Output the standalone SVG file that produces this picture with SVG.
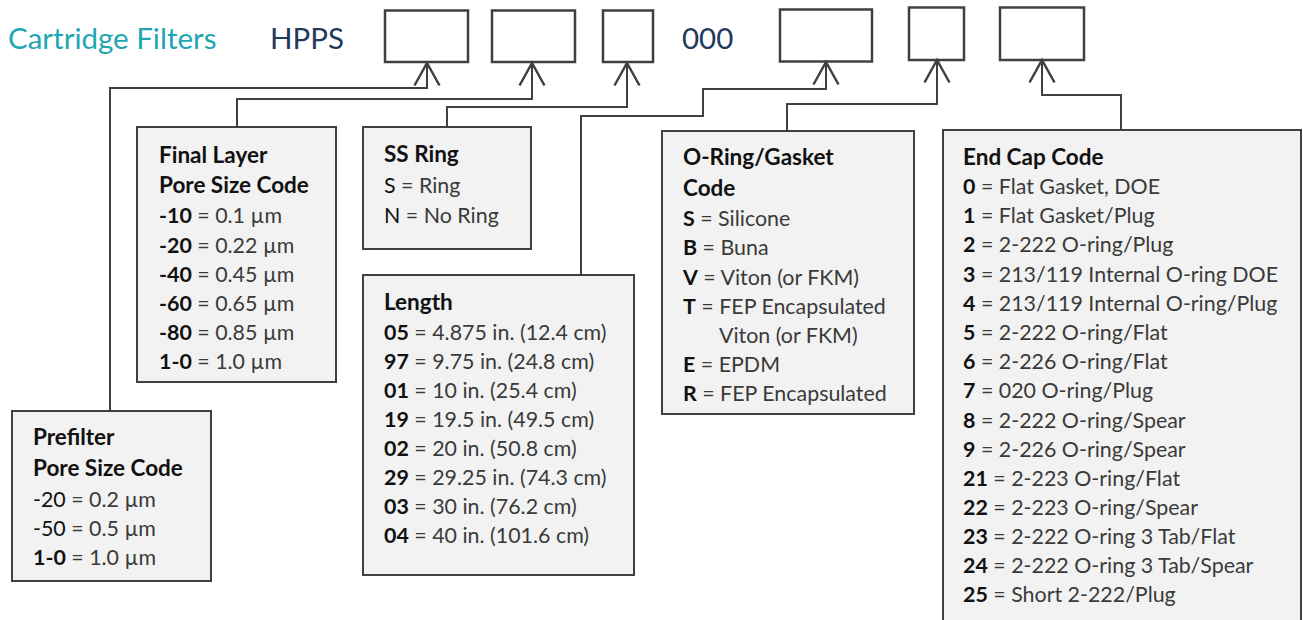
<svg xmlns="http://www.w3.org/2000/svg" width="1303" height="620" viewBox="0 0 1303 620">
<style>
text{font-family:Lato,"Open Sans","Liberation Sans",sans-serif;}
.hd{font-size:29.5px;}
.t{font-size:22.5px;font-weight:bold;fill:#111;}
.l{font-size:21.4px;fill:#3a3a3a;font-weight:400;}
.b{font-weight:bold;fill:#111;}
.k{fill:#111;font-weight:400;}
.slot{fill:#fff;stroke:#404040;stroke-width:2.5;}
.box{fill:#f2f2f2;stroke:#404040;stroke-width:2;}
.c{fill:none;stroke:#404040;stroke-width:2;marker-end:url(#ah);}
</style>
<defs>
<marker id="ah" markerUnits="userSpaceOnUse" markerWidth="30" markerHeight="30" viewBox="-20 -12 24 24" refX="0" refY="0" orient="auto">
<path d="M-18,-10 L0,0 L-18,10" fill="none" stroke="#404040" stroke-width="2"/>
</marker>
</defs>
<g id="header">
<text class="hd" x="8" y="49" fill="#1ea6b2">Cartridge Filters</text>
<text class="hd" x="270" y="49" fill="#1f3a5c">HPPS</text>
<text class="hd" x="682" y="49" fill="#1f3a5c">000</text>
</g>
<g id="slots">
<rect id="slot1" class="slot" x="385" y="10.5" width="83" height="51.5"/>
<rect id="slot2" class="slot" x="492" y="10.5" width="83" height="51.5"/>
<rect id="slot3" class="slot" x="603" y="10.5" width="50" height="51.5"/>
<rect id="slot4" class="slot" x="780" y="9.5" width="92" height="52"/>
<rect id="slot5" class="slot" x="909" y="7.5" width="55" height="52.5"/>
<rect id="slot6" class="slot" x="1000" y="7.5" width="84" height="52.5"/>
</g>
<g id="connectors">
<path class="c" d="M110,411 V88 H427 V63"/>
<path class="c" d="M237,127 V99 H532 V63"/>
<path class="c" d="M447,127 V107 H627 V63"/>
<path class="c" d="M581,275 V116 H703 V89 H826 V62"/>
<path class="c" d="M787,131 V104 H937 V60"/>
<path class="c" d="M1121,130 V95 H1042 V60"/>
</g>
<g id="final-layer">
<rect class="box" x="137" y="127" width="199" height="255"/>
<text class="t" x="159" y="163">Final Layer</text>
<text class="t" x="159" y="193">Pore Size Code</text>
<text class="l" x="159" y="223"><tspan class="b">-10</tspan> = 0.1 µm</text>
<text class="l" x="159" y="253"><tspan class="b">-20</tspan> = 0.22 µm</text>
<text class="l" x="159" y="282"><tspan class="b">-40</tspan> = 0.45 µm</text>
<text class="l" x="159" y="311"><tspan class="b">-60</tspan> = 0.65 µm</text>
<text class="l" x="159" y="340"><tspan class="b">-80</tspan> = 0.85 µm</text>
<text class="l" x="159" y="369"><tspan class="b">1-0</tspan> = 1.0 µm</text>
</g>
<g id="prefilter">
<rect class="box" x="12" y="411" width="199" height="170"/>
<text class="t" x="33" y="445">Prefilter</text>
<text class="t" x="33" y="476">Pore Size Code</text>
<text class="l" x="33" y="507"><tspan class="k">-20</tspan> = 0.2 µm</text>
<text class="l" x="33" y="536"><tspan class="k">-50</tspan> = 0.5 µm</text>
<text class="l" x="33" y="565"><tspan class="b">1-0</tspan> = 1.0 µm</text>
</g>
<g id="ss-ring">
<rect class="box" x="363" y="127" width="168" height="122"/>
<text class="t" x="384" y="162">SS Ring</text>
<text class="l" x="384" y="193"><tspan class="k">S</tspan> = Ring</text>
<text class="l" x="384" y="223"><tspan class="k">N</tspan> = No Ring</text>
</g>
<g id="length">
<rect class="box" x="363" y="275" width="271" height="300"/>
<text class="t" x="384" y="310">Length</text>
<text class="l" x="384" y="340"><tspan class="b">05</tspan> = 4.875 in. (12.4 cm)</text>
<text class="l" x="384" y="369"><tspan class="b">97</tspan> = 9.75 in. (24.8 cm)</text>
<text class="l" x="384" y="398"><tspan class="b">01</tspan> = 10 in. (25.4 cm)</text>
<text class="l" x="384" y="427"><tspan class="b">19</tspan> = 19.5 in. (49.5 cm)</text>
<text class="l" x="384" y="456"><tspan class="b">02</tspan> = 20 in. (50.8 cm)</text>
<text class="l" x="384" y="485"><tspan class="b">29</tspan> = 29.25 in. (74.3 cm)</text>
<text class="l" x="384" y="514"><tspan class="b">03</tspan> = 30 in. (76.2 cm)</text>
<text class="l" x="384" y="543"><tspan class="b">04</tspan> = 40 in. (101.6 cm)</text>
</g>
<g id="o-ring">
<rect class="box" x="662" y="131" width="252" height="283"/>
<text class="t" x="683" y="165">O-Ring/Gasket</text>
<text class="t" x="683" y="196">Code</text>
<text class="l" x="683" y="226"><tspan class="b">S</tspan> = Silicone</text>
<text class="l" x="683" y="255"><tspan class="b">B</tspan> = Buna</text>
<text class="l" x="683" y="285"><tspan class="b">V</tspan> = Viton (or FKM)</text>
<text class="l" x="683" y="314"><tspan class="b">T</tspan> = FEP Encapsulated</text>
<text class="l" x="719" y="343">Viton (or FKM)</text>
<text class="l" x="683" y="372"><tspan class="b">E</tspan> = EPDM</text>
<text class="l" x="683" y="401"><tspan class="b">R</tspan> = FEP Encapsulated</text>
</g>
<g id="end-cap">
<rect class="box" x="943" y="130" width="358" height="500"/>
<text class="t" x="963" y="165">End Cap Code</text>
<text class="l" x="963" y="194"><tspan class="b">0</tspan> = Flat Gasket, DOE</text>
<text class="l" x="963" y="223"><tspan class="b">1</tspan> = Flat Gasket/Plug</text>
<text class="l" x="963" y="252"><tspan class="b">2</tspan> = 2-222 O-ring/Plug</text>
<text class="l" x="963" y="282"><tspan class="b">3</tspan> = 213/119 Internal O-ring DOE</text>
<text class="l" x="963" y="311"><tspan class="b">4</tspan> = 213/119 Internal O-ring/Plug</text>
<text class="l" x="963" y="340"><tspan class="b">5</tspan> = 2-222 O-ring/Flat</text>
<text class="l" x="963" y="369"><tspan class="b">6</tspan> = 2-226 O-ring/Flat</text>
<text class="l" x="963" y="398"><tspan class="b">7</tspan> = 020 O-ring/Plug</text>
<text class="l" x="963" y="428"><tspan class="b">8</tspan> = 2-222 O-ring/Spear</text>
<text class="l" x="963" y="457"><tspan class="b">9</tspan> = 2-226 O-ring/Spear</text>
<text class="l" x="963" y="486"><tspan class="b">21</tspan> = 2-223 O-ring/Flat</text>
<text class="l" x="963" y="515"><tspan class="b">22</tspan> = 2-223 O-ring/Spear</text>
<text class="l" x="963" y="544"><tspan class="b">23</tspan> = 2-222 O-ring 3 Tab/Flat</text>
<text class="l" x="963" y="573"><tspan class="b">24</tspan> = 2-222 O-ring 3 Tab/Spear</text>
<text class="l" x="963" y="602"><tspan class="b">25</tspan> = Short 2-222/Plug</text>
</g>
</svg>
